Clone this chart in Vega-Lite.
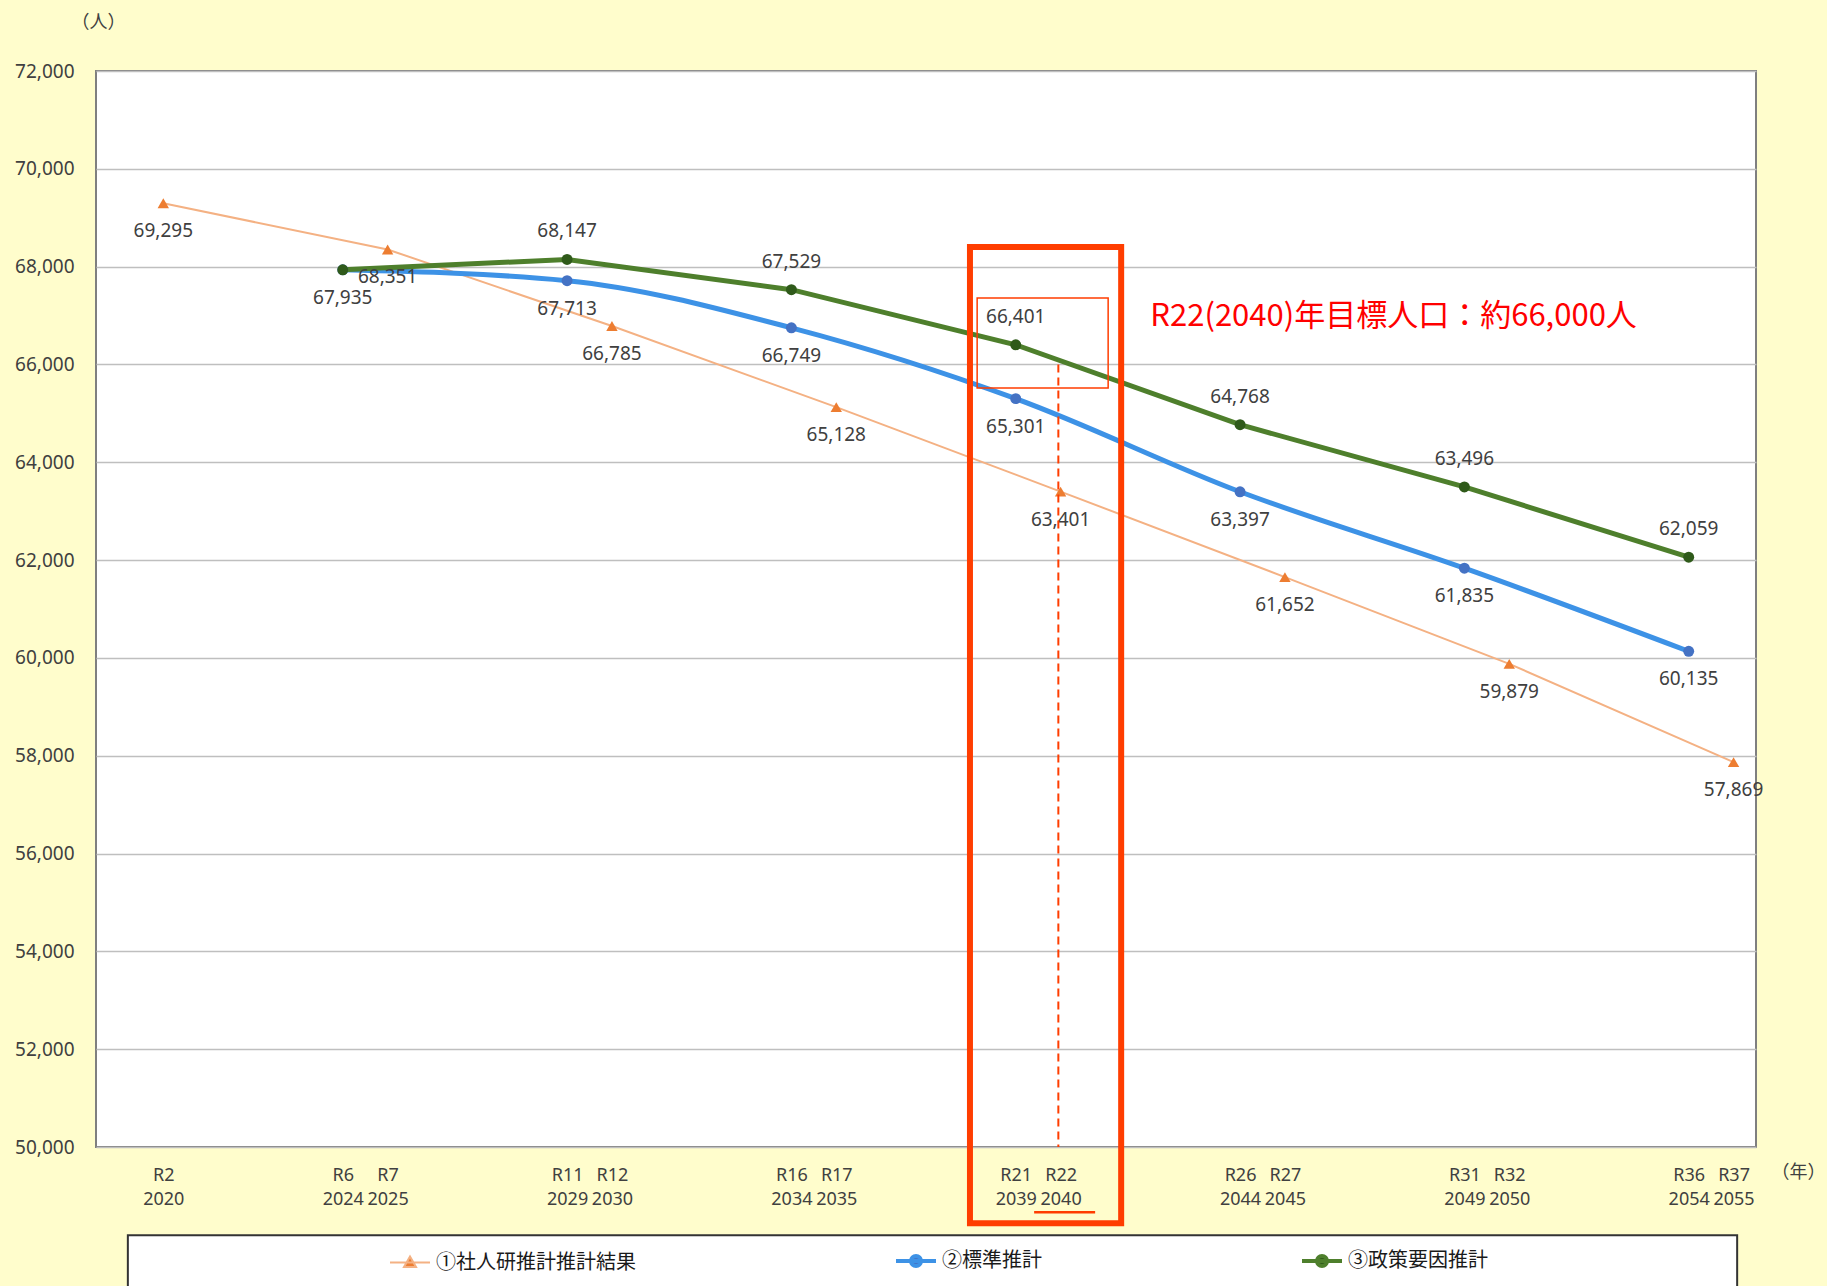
{
  "$schema": "https://vega.github.io/schema/vega-lite/v6.json",
  "width": 1660,
  "height": 1076,
  "autosize": {"type": "none"},
  "padding": {"left": 96, "top": 71, "right": 71, "bottom": 139},
  "background": "#FFFDCC",
  "config": {
    "view": {"fill": "#FFFFFF", "stroke": "#7F7F7F", "strokeWidth": 2},
    "font": "Noto Sans",
    "axisX": {
      "labelFontSize": 18, "labelLineHeight": 24, "labelBaseline": "top", "labelPadding": 19,
      "labelColor": "#404040", "labelOverlap": false, "labelFlush": false,
      "ticks": false, "domain": false, "grid": false,
      "titleX": 1702, "titleY": 25, "titleAngle": 0, "titleAlign": "center", "titleBaseline": "middle",
      "titleFont": "Noto Sans CJK JP", "titleFontSize": 18, "titleFontWeight": "normal", "titleColor": "#404040"
    },
    "axisY": {
      "labelFontSize": 19, "labelColor": "#404040", "labelPadding": 22,
      "ticks": false, "domain": false, "grid": true, "gridColor": "#BFBFBF", "gridWidth": 1.5,
      "titleX": 2, "titleY": -49, "titleAngle": 0, "titleAlign": "center", "titleBaseline": "middle",
      "titleFont": "Noto Sans CJK JP", "titleFontSize": 18, "titleFontWeight": "normal", "titleColor": "#404040"
    }
  },
  "datasets": {
    "pop": [
      {"series": "①社人研推計推計結果", "year": 2020, "value": 69295},
      {"series": "①社人研推計推計結果", "year": 2025, "value": 68351},
      {"series": "①社人研推計推計結果", "year": 2030, "value": 66785},
      {"series": "①社人研推計推計結果", "year": 2035, "value": 65128},
      {"series": "①社人研推計推計結果", "year": 2040, "value": 63401},
      {"series": "①社人研推計推計結果", "year": 2045, "value": 61652},
      {"series": "①社人研推計推計結果", "year": 2050, "value": 59879},
      {"series": "①社人研推計推計結果", "year": 2055, "value": 57869},
      {"series": "②標準推計", "year": 2024, "value": 67935},
      {"series": "②標準推計", "year": 2029, "value": 67713},
      {"series": "②標準推計", "year": 2034, "value": 66749},
      {"series": "②標準推計", "year": 2039, "value": 65301},
      {"series": "②標準推計", "year": 2044, "value": 63397},
      {"series": "②標準推計", "year": 2049, "value": 61835},
      {"series": "②標準推計", "year": 2054, "value": 60135},
      {"series": "③政策要因推計", "year": 2024, "value": 67935},
      {"series": "③政策要因推計", "year": 2029, "value": 68147},
      {"series": "③政策要因推計", "year": 2034, "value": 67529},
      {"series": "③政策要因推計", "year": 2039, "value": 66401},
      {"series": "③政策要因推計", "year": 2044, "value": 64768},
      {"series": "③政策要因推計", "year": 2049, "value": 63496},
      {"series": "③政策要因推計", "year": 2054, "value": 62059}
    ],
    "legendbox": [{"x": 2019.21, "x2": 2055.08, "y": 48196, "y2": 47000}],
    "bigbox": [{"x": 2037.98, "x2": 2041.35, "y": 68401, "y2": 48442}],
    "smallbox": [{"x": 2038.14, "x2": 2041.06, "y": 67358, "y2": 65517}],
    "target": [{"x": 2039.95, "y": 66000, "y2": 50000}],
    "underline": [{"x": 2039.41, "x2": 2040.77, "y": 48667}],
    "note": [{"x": 2042.0, "y": 66969, "text": "R22(2040)年目標人口：約66,000人"}]
  },
  "layer": [
    {
      "data": {"name": "legendbox"},
      "mark": {"type": "rect", "fill": "#FFFFFF", "stroke": "#333333", "strokeWidth": 2},
      "encoding": {
        "x": {"field": "x", "type": "quantitative", "scale": {"domain": [2018.5, 2055.5], "nice": false, "zero": false}, "title": "（年）"},
        "x2": {"field": "x2"},
        "y": {"field": "y", "type": "quantitative", "scale": {"domain": [50000, 72000], "nice": false, "zero": false}, "title": "（人）"},
        "y2": {"field": "y2"}
      }
    },
    {
      "data": {"name": "pop"},
      "encoding": {
        "x": {
          "field": "year", "type": "quantitative",
          "scale": {"domain": [2018.5, 2055.5], "nice": false, "zero": false},
          "title": "（年）",
          "axis": {
            "values": [2020, 2024, 2025, 2029, 2030, 2034, 2035, 2039, 2040, 2044, 2045, 2049, 2050, 2054, 2055],
            "labelExpr": "['R' + (datum.value - 2018), '' + datum.value]"
          }
        },
        "y": {
          "field": "value", "type": "quantitative",
          "scale": {"domain": [50000, 72000], "nice": false, "zero": false},
          "title": "（人）",
          "axis": {
            "values": [50000, 52000, 54000, 56000, 58000, 60000, 62000, 64000, 66000, 68000, 70000, 72000],
            "labelExpr": "format(datum.value, ',')"
          }
        }
      },
      "layer": [
        {
          "transform": [{"filter": "datum.series === '①社人研推計推計結果'"}],
          "mark": {"type": "line", "strokeWidth": 2},
          "encoding": {
            "color": {
              "field": "series", "type": "nominal",
              "scale": {"domain": ["①社人研推計推計結果", "②標準推計", "③政策要因推計"], "range": ["#F4B183", "#3D92E6", "#4E7F2C"]},
              "legend": {
                "orient": "none", "legendX": 304, "legendY": 1180, "direction": "horizontal", "title": null,
                "symbolSize": 1600, "labelFont": "Noto Sans CJK JP", "labelFontSize": 20, "labelColor": "#1A1A1A",
                "labelOffset": 16, "columnPadding": 252, "padding": 0, "labelLimit": 400,
                "encode": {"symbols": {"update": {
                  "shape": {"signal": "datum.value === '①社人研推計推計結果' ? 'M-1,0L1,0M0,-0.3L0.3,0.22L-0.3,0.22Z' : 'M-1,0L1,0M-0.25,0A0.25,0.25 0 1,0 0.25,0A0.25,0.25 0 1,0 -0.25,0Z'"},
                  "fill": {"signal": "datum.value === '①社人研推計推計結果' ? '#ED7D31' : datum.value === '②標準推計' ? '#4472C4' : '#2F5A1A'"},
                  "stroke": {"signal": "datum.value === '①社人研推計推計結果' ? '#F4B183' : datum.value === '②標準推計' ? '#3D92E6' : '#4E7F2C'"},
                  "strokeWidth": {"signal": "datum.value === '①社人研推計推計結果' ? 2 : 4"},
                  "opacity": {"value": 1}
                }}}
              }
            }
          }
        },
        {
          "transform": [{"filter": "datum.series === '②標準推計'"}],
          "mark": {"type": "line", "strokeWidth": 5, "interpolate": "monotone"},
          "encoding": {
            "color": {
              "field": "series", "type": "nominal",
              "scale": {"domain": ["①社人研推計推計結果", "②標準推計", "③政策要因推計"], "range": ["#F4B183", "#3D92E6", "#4E7F2C"]}
            }
          }
        },
        {
          "transform": [{"filter": "datum.series === '③政策要因推計'"}],
          "mark": {"type": "line", "strokeWidth": 5},
          "encoding": {
            "color": {
              "field": "series", "type": "nominal",
              "scale": {"domain": ["①社人研推計推計結果", "②標準推計", "③政策要因推計"], "range": ["#F4B183", "#3D92E6", "#4E7F2C"]}
            }
          }
        },
        {
          "transform": [{"filter": "datum.series === '①社人研推計推計結果'"}],
          "mark": {"type": "point", "shape": "triangle-up", "filled": true, "size": 130, "opacity": 1, "strokeWidth": 0, "fill": "#ED7D31"}
        },
        {
          "transform": [{"filter": "datum.series === '②標準推計'"}],
          "mark": {"type": "point", "shape": "circle", "filled": true, "size": 120, "opacity": 1, "strokeWidth": 0, "fill": "#4472C4"}
        },
        {
          "transform": [{"filter": "datum.series === '③政策要因推計'"}],
          "mark": {"type": "point", "shape": "circle", "filled": true, "size": 120, "opacity": 1, "strokeWidth": 0, "fill": "#2F5A1A"}
        },
        {
          "transform": [{"filter": "(datum.series === '①社人研推計推計結果') || (datum.series === '②標準推計' && datum.year !== 2024) || (datum.series === '③政策要因推計' && datum.year === 2024)"}],
          "mark": {"type": "text", "dy": 28, "fontSize": 19, "fill": "#404040", "baseline": "middle", "align": "center"},
          "encoding": {"text": {"field": "value", "type": "quantitative", "format": ","}}
        },
        {
          "transform": [{"filter": "datum.series === '③政策要因推計' && datum.year !== 2024"}],
          "mark": {"type": "text", "dy": -28, "fontSize": 19, "fill": "#404040", "baseline": "middle", "align": "center"},
          "encoding": {"text": {"field": "value", "type": "quantitative", "format": ","}}
        }
      ]
    },
    {
      "data": {"name": "target"},
      "mark": {"type": "rule", "stroke": "#FF3D00", "strokeWidth": 2, "strokeDash": [8, 5]},
      "encoding": {
        "x": {"field": "x", "type": "quantitative", "scale": {"domain": [2018.5, 2055.5], "nice": false, "zero": false}, "title": "（年）"},
        "y": {"field": "y", "type": "quantitative", "scale": {"domain": [50000, 72000], "nice": false, "zero": false}, "title": "（人）"},
        "y2": {"field": "y2"}
      }
    },
    {
      "data": {"name": "smallbox"},
      "mark": {"type": "rect", "fill": "transparent", "stroke": "#FF3D00", "strokeWidth": 1.5},
      "encoding": {
        "x": {"field": "x", "type": "quantitative", "scale": {"domain": [2018.5, 2055.5], "nice": false, "zero": false}, "title": "（年）"},
        "x2": {"field": "x2"},
        "y": {"field": "y", "type": "quantitative", "scale": {"domain": [50000, 72000], "nice": false, "zero": false}, "title": "（人）"},
        "y2": {"field": "y2"}
      }
    },
    {
      "data": {"name": "bigbox"},
      "mark": {"type": "rect", "fill": "transparent", "stroke": "#FF3D00", "strokeWidth": 6},
      "encoding": {
        "x": {"field": "x", "type": "quantitative", "scale": {"domain": [2018.5, 2055.5], "nice": false, "zero": false}, "title": "（年）"},
        "x2": {"field": "x2"},
        "y": {"field": "y", "type": "quantitative", "scale": {"domain": [50000, 72000], "nice": false, "zero": false}, "title": "（人）"},
        "y2": {"field": "y2"}
      }
    },
    {
      "data": {"name": "underline"},
      "mark": {"type": "rule", "stroke": "#FF3D00", "strokeWidth": 2.5},
      "encoding": {
        "x": {"field": "x", "type": "quantitative", "scale": {"domain": [2018.5, 2055.5], "nice": false, "zero": false}, "title": "（年）"},
        "x2": {"field": "x2"},
        "y": {"field": "y", "type": "quantitative", "scale": {"domain": [50000, 72000], "nice": false, "zero": false}, "title": "（人）"}
      }
    },
    {
      "data": {"name": "note"},
      "mark": {"type": "text", "font": "Noto Sans CJK JP", "fontSize": 31, "fill": "#FF0000", "align": "left", "baseline": "middle"},
      "encoding": {
        "x": {"field": "x", "type": "quantitative", "scale": {"domain": [2018.5, 2055.5], "nice": false, "zero": false}, "title": "（年）"},
        "y": {"field": "y", "type": "quantitative", "scale": {"domain": [50000, 72000], "nice": false, "zero": false}, "title": "（人）"},
        "text": {"field": "text", "type": "nominal"}
      }
    }
  ]
}
